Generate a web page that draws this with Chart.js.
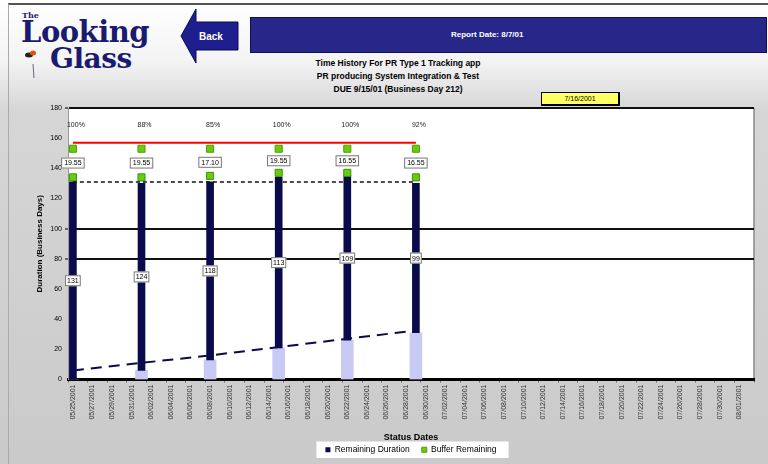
<!DOCTYPE html>
<html>
<head>
<meta charset="utf-8">
<script src="https://cdn.jsdelivr.net/npm/chart.js@4.4.1/dist/chart.umd.min.js"></script>
<style>
  html, body { margin: 0; padding: 0; }
  body {
    width: 768px; height: 464px; overflow: hidden; position: relative;
    font-family: "Liberation Sans", Arial, sans-serif;
    background: linear-gradient(#ffffff 0px, #f4f4f4 60px, #d6d6d6 110px, #cacaca 464px);
  }
  #frame { position: absolute; left: 8px; top: 3px; right: 0; bottom: 0;
    border-top: 2px solid #555; border-left: 1px solid #aaa; }
  #chart { position: absolute; left: 0; top: 0; }
  .logo { position: absolute; color: #1a1a6e; font-family: "DejaVu Serif", serif; font-weight: bold; line-height: 1; }
  #banner { position: absolute; left: 250px; top: 17px; width: 515px; height: 34px;
    background: #27278a; border: 1px solid #10104a; }
  #banner span { position: absolute; left: 200px; top: 12px; color: #fff; font-size: 8px; font-weight: bold; }
  .sub { position: absolute; left: 250px; width: 296px; text-align: center; font-size: 8.5px; font-weight: bold; color: #000; }
  #today { position: absolute; left: 541px; top: 92px; width: 76px; height: 11px;
    background: #ffff66; border: 1px solid #000; border-right-width: 2px; border-bottom-width: 2px;
    font-size: 7px; text-align: center; line-height: 11px; }
</style>
</head>
<body>
<div id="frame"></div>
<div class="logo" style="left:22px;top:11px;font-size:8px;">The</div>
<div class="logo" style="left:21px;top:18px;font-size:29px;letter-spacing:-0.5px;">Looking</div>
<div class="logo" style="left:50px;top:45px;font-size:28px;letter-spacing:-0.5px;">Glass</div>
<svg style="position:absolute;left:0;top:0" width="250" height="80">
  <ellipse cx="29" cy="55" rx="4" ry="2.5" fill="#222"/>
  <ellipse cx="33" cy="53" rx="3" ry="2.5" fill="#e05010"/>
  <line x1="33" y1="64" x2="34" y2="78" stroke="#667" stroke-width="1"/>
  <polygon points="181,36 196,9 196,22 238,22 238,50 196,50 196,63" fill="#1e1e8e" stroke="#0c0c55" stroke-width="1"/>
  <text x="199" y="40" fill="#fff" font-size="10" font-weight="bold" font-family="Liberation Sans">Back</text>
</svg>
<div id="banner"><span>Report Date: 8/7/01</span></div>
<div class="sub" style="top:58px;">Time History For PR Type 1 Tracking app</div>
<div class="sub" style="top:71px;">PR producing System Integration &amp; Test</div>
<div class="sub" style="top:84px;">DUE 9/15/01 (Business Day 212)</div>
<div id="today">7/16/2001</div>
<canvas id="chart" width="768" height="464"></canvas>
<script>
// categories (one per day, labelled every other day)
const dates = [
  "05/25/2001","05/26/2001","05/27/2001","05/28/2001","05/29/2001","05/30/2001","05/31/2001",
  "06/01/2001","06/02/2001","06/03/2001","06/04/2001","06/05/2001","06/06/2001","06/07/2001",
  "06/08/2001","06/09/2001","06/10/2001","06/11/2001","06/12/2001","06/13/2001","06/14/2001",
  "06/15/2001","06/16/2001","06/17/2001","06/18/2001","06/19/2001","06/20/2001","06/21/2001",
  "06/22/2001","06/23/2001","06/24/2001","06/25/2001","06/26/2001","06/27/2001","06/28/2001",
  "06/29/2001","06/30/2001","07/01/2001","07/02/2001","07/03/2001","07/04/2001","07/05/2001",
  "07/06/2001","07/07/2001","07/08/2001","07/09/2001","07/10/2001","07/11/2001","07/12/2001",
  "07/13/2001","07/14/2001","07/15/2001","07/16/2001","07/17/2001","07/18/2001","07/19/2001",
  "07/20/2001","07/21/2001","07/22/2001","07/23/2001","07/24/2001","07/25/2001","07/26/2001",
  "07/27/2001","07/28/2001","07/29/2001","07/30/2001","07/31/2001","08/01/2001","08/02/2001"
];
// weekly status points
const statusIdx = [0, 7, 14, 21, 28, 35];
const elapsed = [0, 6, 13, 21, 26, 31];
const remaining = [131, 124, 118, 113, 109, 99];
const bufferLow = [134, 134, 135, 137, 137, 134];
const bufferHigh = [153, 153, 153, 153, 153, 153];
const bufferRemaining = [19.55, 19.55, 17.10, 19.55, 16.55, 16.55];
const pctComplete = ["100%", "88%", "85%", "100%", "100%", "92%"];
const trend = [6, 11, 16, 21.5, 27, 32.5];
const bufferLimit = 157;
const baseline = 131;
const refLines = [80, 100];
const pctLevel = 169;

const NAVY = "#0a0a4c";
const GREEN = "#6acc10";
const FONT = "Liberation Sans";

function spread(vals) {
  const a = dates.map(() => null);
  statusIdx.forEach((k, i) => a[k] = vals[i]);
  return a;
}

const plotBg = {
  id: "plotBg",
  beforeDraw(chart) {
    const { ctx, chartArea: a } = chart;
    ctx.save();
    ctx.fillStyle = "#fff";
    ctx.fillRect(a.left, a.top, a.right - a.left, a.bottom - a.top);
    ctx.strokeStyle = "#888";
    ctx.lineWidth = 1.5;
    ctx.beginPath();
    ctx.moveTo(a.right, a.top);
    ctx.lineTo(a.right, a.bottom);
    ctx.stroke();
    // white box behind the legend
    const hb = chart.legend.legendHitBoxes;
    if (hb && hb.length) {
      const l = Math.min(...hb.map(h => h.left)) - 9;
      const r = Math.max(...hb.map(h => h.left + h.width)) + 12;
      const t = Math.min(...hb.map(h => h.top)) - 4;
      const b = Math.max(...hb.map(h => h.top + h.height)) + 4;
      ctx.fillStyle = "#fff";
      ctx.fillRect(l, t, r - l, b - t);
    }
    ctx.restore();
  }
};

function labelBox(ctx, text, x, y, padX) {
  ctx.font = "7px " + FONT;
  const w = ctx.measureText(text).width + padX * 2;
  const h = 11;
  ctx.fillStyle = "#fff";
  ctx.fillRect(x - w / 2, y - h / 2, w, h);
  ctx.strokeStyle = "#777";
  ctx.lineWidth = 1;
  ctx.strokeRect(x - w / 2 + 0.5, y - h / 2 + 0.5, w - 1, h - 1);
  ctx.fillStyle = "#000";
  ctx.textAlign = "center";
  ctx.textBaseline = "middle";
  ctx.fillText(text, x, y + 0.5);
}

const valueLabels = {
  id: "valueLabels",
  afterDatasetsDraw(chart) {
    const { ctx } = chart;
    const xs = chart.scales.x, ys = chart.scales.y;
    ctx.save();
    statusIdx.forEach((k, i) => {
      const x = xs.getPixelForValue(k);
      // remaining duration, middle of bar
      labelBox(ctx, String(remaining[i]), x, ys.getPixelForValue(elapsed[i] + remaining[i] / 2), 2);
      // buffer remaining, between the green markers
      labelBox(ctx, bufferRemaining[i].toFixed(2), x, ys.getPixelForValue((bufferLow[i] + bufferHigh[i]) / 2), 3);
      // percent
      ctx.font = "7px " + FONT;
      ctx.fillStyle = "#222";
      ctx.textAlign = "center";
      ctx.textBaseline = "middle";
      ctx.fillText(pctComplete[i], x + 3, ys.getPixelForValue(pctLevel));
    });
    ctx.restore();
  }
};

new Chart(document.getElementById("chart"), {
  type: "bar",
  data: {
    labels: dates,
    datasets: [
      {
        type: "line", label: "Buffer Limit", data: spread(statusIdx.map(() => bufferLimit)),
        borderColor: "#ff0000", borderWidth: 2, pointRadius: 0, spanGaps: true, order: 0
      },
      {
        type: "line", label: "Baseline", data: spread(statusIdx.map(() => baseline)),
        borderColor: "#111", borderWidth: 1.5, borderDash: [4, 3], pointRadius: 0, spanGaps: true, order: 1
      },
      {
        type: "line", label: "Trend", data: spread(trend),
        borderColor: NAVY, borderWidth: 2, borderDash: [11, 7], pointRadius: 0, spanGaps: true, order: 2
      },
      {
        type: "line", label: "Buffer Remaining", data: spread(bufferHigh), showLine: false,
        pointStyle: "rect", pointRadius: 5, backgroundColor: GREEN, borderColor: "#4aa000", borderWidth: 1, order: 3
      },
      {
        type: "line", label: "Buffer Low", data: spread(bufferLow), showLine: false,
        pointStyle: "rect", pointRadius: 5, backgroundColor: GREEN, borderColor: "#2f9a00", borderWidth: 1, order: 4
      },
      {
        label: "Remaining Duration", data: spread(remaining.map((r, i) => [elapsed[i], elapsed[i] + r])),
        backgroundColor: NAVY, barThickness: 7, grouped: false, order: 5
      },
      {
        label: "Elapsed", data: spread(elapsed),
        backgroundColor: "#c9c9f6", barThickness: 12, grouped: false, order: 6
      }
    ]
  },
  options: {
    responsive: false,
    animation: false,
    layout: { padding: { left: 30, right: 14, top: 108, bottom: 0 } },
    plugins: {
      tooltip: { enabled: false },
      legend: {
        position: "bottom",
        fullSize: false,
        labels: {
          boxWidth: 5, boxHeight: 5, padding: 12, color: "#000",
          font: { family: FONT, size: 8.5 },
          filter: item => item.text === "Remaining Duration" || item.text === "Buffer Remaining",
          sort: (a, b) => (a.text === "Remaining Duration" ? -1 : 1)
        }
      }
    },
    scales: {
      x: {
        afterFit(scale) { scale.height = 54; },
        grid: { drawOnChartArea: false, tickLength: 3, color: (c) => c.index % 2 ? "rgba(0,0,0,0)" : "#666" },
        border: { color: "#000", width: 3 },
        ticks: {
          autoSkip: false, minRotation: 90, maxRotation: 90, padding: 2,
          color: "#333", font: { family: FONT, size: 7 },
          callback: (v, i) => (i % 2 ? "" : dates[i])
        },
        title: { display: true, text: "Status Dates", color: "#000", padding: { top: 0, bottom: -9 }, font: { family: FONT, size: 9, weight: "bold" } }
      },
      y: {
        min: 0, max: 180,
        afterFit(scale) { scale.width = 38; },
        ticks: { stepSize: 20, color: "#000", padding: 3, font: { family: FONT, size: 7 } },
        grid: {
          tickLength: 3,
          tickColor: "#666",
          color: (c) => (refLines.includes(c.tick.value) || c.tick.value === 180) ? "#111" : "rgba(0,0,0,0)",
          lineWidth: (c) => (refLines.includes(c.tick.value) || c.tick.value === 180) ? 2 : 0
        },
        border: { color: "#999", width: 1 },
        title: { display: true, text: "Duration (Business Days)", color: "#000", padding: { top: 5, bottom: 0 }, font: { family: FONT, size: 8, weight: "bold" } }
      }
    }
  },
  plugins: [plotBg, valueLabels]
});
</script>
</body>
</html>
